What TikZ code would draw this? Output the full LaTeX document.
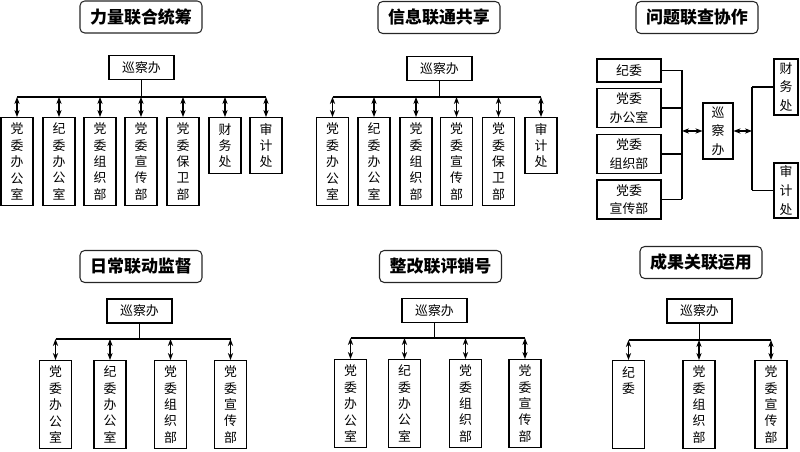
\documentclass[tikz,border=0pt]{standalone}
\usepackage{fontspec}
\setmainfont{Noto Sans CJK SC}
\usetikzlibrary{arrows.meta, positioning, calc}

\begin{document}
\begin{tikzpicture}[
    x=0.03cm, y=-0.03cm,
    line width=0.9pt,
    title/.style={rectangle, rounded corners=4pt, draw=black!85, minimum width=3.66cm, minimum height=0.96cm, inner sep=0pt, font=\fontsize{14.5}{16}\selectfont\bfseries},
    office/.style={rectangle, draw=black, minimum width=1.95cm, minimum height=0.72cm, inner sep=0pt, font=\fontsize{11}{14}\selectfont},
    dept/.style={rectangle, draw=black, anchor=north, minimum width=0.96cm, minimum height=2.64cm, inner sep=0pt, align=center, font=\fontsize{11}{14}\selectfont},
    shortdept/.style={dept, minimum height=1.68cm},
    wide/.style={rectangle, draw=black, minimum width=1.92cm, minimum height=1.17cm, inner sep=0pt, align=center, font=\fontsize{11}{16}\selectfont},
    link/.style={<->, >={Stealth[length=6pt,width=4.5pt]}}
]
\useasboundingbox (0,0) rectangle (800,452);

% Panel 1
\node (t1) [title] at (141,17) {力量联合统筹};
\node (x1) [office] at (141.5,67.5) {巡察办};
\node (a1) [dept] at (17,117) {党\\委\\办\\公\\室};
\node (b1) [dept] at (59,117) {纪\\委\\办\\公\\室};
\node (c1) [dept] at (100,117) {党\\委\\组\\织\\部};
\node (d1) [dept] at (141,117) {党\\委\\宣\\传\\部};
\node (e1) [dept] at (183,117) {党\\委\\保\\卫\\部};
\node (f1) [shortdept] at (225,117) {财\\务\\处};
\node (g1) [shortdept] at (266,117) {审\\计\\处};
\coordinate (bar1) at (141.5,97);

\draw (x1.south) -- (x1.south |- bar1);
\draw (a1.north |- bar1) -- (g1.north |- bar1);
\draw [link] (a1.north |- bar1) -- (a1.north);
\draw [link] (b1.north |- bar1) -- (b1.north);
\draw [link] (c1.north |- bar1) -- (c1.north);
\draw [link] (d1.north |- bar1) -- (d1.north);
\draw [link] (e1.north |- bar1) -- (e1.north);
\draw [link] (f1.north |- bar1) -- (f1.north);
\draw [link] (g1.north |- bar1) -- (g1.north);

% Panel 2
\node (t2) [title] at (439,17.5) {信息联通共享};
\node (x2) [office] at (439.5,68.5) {巡察办};
\node (a2) [dept] at (332.5,117) {党\\委\\办\\公\\室};
\node (b2) [dept] at (374,117) {纪\\委\\办\\公\\室};
\node (c2) [dept] at (416,117) {党\\委\\组\\织\\部};
\node (d2) [dept] at (456.5,117) {党\\委\\宣\\传\\部};
\node (e2) [dept] at (498.5,117) {党\\委\\保\\卫\\部};
\node (f2) [shortdept] at (541,117) {审\\计\\处};
\coordinate (bar2) at (439.5,97);

\draw (x2.south) -- (x2.south |- bar2);
\draw (a2.north |- bar2) -- (f2.north |- bar2);
\draw [link] (a2.north |- bar2) -- (a2.north);
\draw [link] (b2.north |- bar2) -- (b2.north);
\draw [link] (c2.north |- bar2) -- (c2.north);
\draw [link] (d2.north |- bar2) -- (d2.north);
\draw [link] (e2.north |- bar2) -- (e2.north);
\draw [link] (f2.north |- bar2) -- (f2.north);

% Panel 3
\node (t3) [title] at (697,17.5) {问题联查协作};
\node (a3) [wide, minimum height=0.69cm] at (629,70.5) {纪委};
\node (b3) [wide] at (629,108) {党委\\办公室};
\node (c3) [wide] at (629,154) {党委\\组织部};
\node (d3) [wide] at (629,199.5) {党委\\宣传部};
\node (x3) [dept, anchor=center, minimum width=0.9cm, minimum height=1.68cm, font=\fontsize{11}{16}\selectfont] at (718,131) {巡\\察\\办};
\node (r3) [dept, anchor=center, minimum width=0.72cm, minimum height=1.68cm, font=\fontsize{11}{16}\selectfont] at (786,87) {财\\务\\处};
\node (s3) [dept, anchor=center, minimum width=0.72cm, minimum height=1.65cm, font=\fontsize{11}{16}\selectfont] at (786,190.5) {审\\计\\处};
\coordinate (j3) at (682,131);
\coordinate (k3) at (752,131);

\draw (a3.east) -- (a3.east -| j3);
\draw (b3.east) -- (b3.east -| j3);
\draw (c3.east) -- (c3.east -| j3);
\draw (d3.east) -- (d3.east -| j3);
\draw (a3.east -| j3) -- (d3.east -| j3);
\draw [link] (j3) -- (x3.west);
\draw [link] (x3.east) -- (k3);
\draw (k3 |- r3.west) -- (k3 |- s3.west);
\draw (k3 |- r3.west) -- (r3.west);
\draw (k3 |- s3.west) -- (s3.west);

% Panel 4
\node (t4) [title] at (141,266.5) {日常联动监督};
\node (x4) [office] at (139.5,311) {巡察办};
\node (a4) [dept] at (55.5,360) {党\\委\\办\\公\\室};
\node (b4) [dept] at (110,360) {纪\\委\\办\\公\\室};
\node (c4) [dept] at (170.5,360) {党\\委\\组\\织\\部};
\node (d4) [dept] at (230.5,360) {党\\委\\宣\\传\\部};
\coordinate (bar4) at (139.5,339);

\draw (x4.south) -- (x4.south |- bar4);
\draw (a4.north |- bar4) -- (d4.north |- bar4);
\draw [link] (a4.north |- bar4) -- (a4.north);
\draw [link] (b4.north |- bar4) -- (b4.north);
\draw [link] (c4.north |- bar4) -- (c4.north);
\draw [link] (d4.north |- bar4) -- (d4.north);

% Panel 5
\node (t5) [title] at (440.5,266.5) {整改联评销号};
\node (x5) [office] at (434.5,310.5) {巡察办};
\node (a5) [dept] at (350.5,359) {党\\委\\办\\公\\室};
\node (b5) [dept] at (404.5,359) {纪\\委\\办\\公\\室};
\node (c5) [dept] at (465.5,359) {党\\委\\组\\织\\部};
\node (d5) [dept] at (525,359) {党\\委\\宣\\传\\部};
\coordinate (bar5) at (434.5,338);

\draw (x5.south) -- (x5.south |- bar5);
\draw (a5.north |- bar5) -- (d5.north |- bar5);
\draw [link] (a5.north |- bar5) -- (a5.north);
\draw [link] (b5.north |- bar5) -- (b5.north);
\draw [link] (c5.north |- bar5) -- (c5.north);
\draw [link] (d5.north |- bar5) -- (d5.north);

% Panel 6
\node (t6) [title] at (701,262.5) {成果关联运用};
\node (x6) [office] at (699.5,311) {巡察办};
\node (a6) [dept] at (628.5,360) {纪\\委\\\mbox{}\\\mbox{}\\\mbox{}};
\node (b6) [dept] at (699,360) {党\\委\\组\\织\\部};
\node (c6) [dept] at (771,360) {党\\委\\宣\\传\\部};
\coordinate (bar6) at (699.5,340);

\draw (x6.south) -- (x6.south |- bar6);
\draw (a6.north |- bar6) -- (c6.north |- bar6);
\draw [link] (a6.north |- bar6) -- (a6.north);
\draw [link] (b6.north |- bar6) -- (b6.north);
\draw [link] (c6.north |- bar6) -- (c6.north);

\end{tikzpicture}
\end{document}
